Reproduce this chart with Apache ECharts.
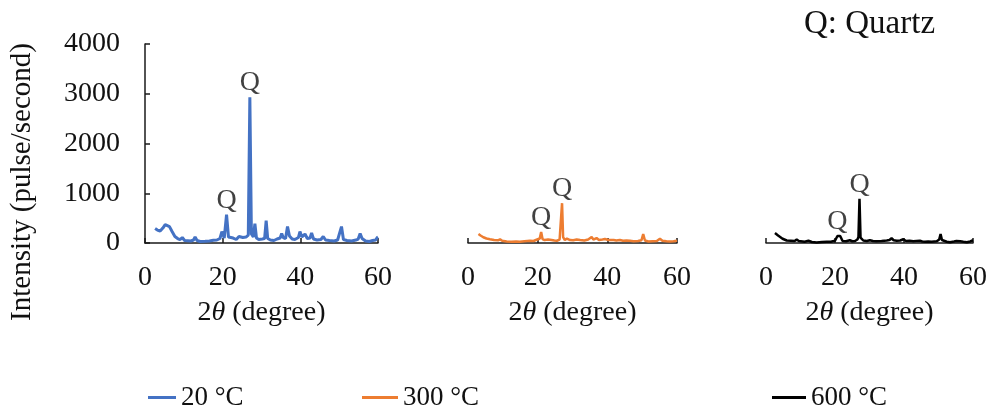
<!DOCTYPE html>
<html>
<head>
<meta charset="utf-8">
<script src="https://cdn.jsdelivr.net/npm/echarts@6/dist/echarts.min.js"></script>
<style>html,body{margin:0;padding:0;background:#fff}#c{width:991px;height:408px}</style>
</head>
<body>
<div id="c"></div>
<script>
// XRD patterns: [2theta (degree), intensity (pulse/second)]
const seriesNames = ['20 °C', '300 °C', '600 °C'];
const seriesColors = ['#4472C4', '#ED7D31', '#000000'];
const xTicks = [0, 20, 40, 60];
const yTicks = [0, 1000, 2000, 3000, 4000];
const xrd20 = [[2.6,290],[3.2,260],[3.9,240],[4.6,300],[5.2,370],[5.7,390],[6.3,330],[6.9,240],[7.7,130],[8.4,90],[9.0,70],[9.6,110],[10.2,50],[10.7,30],[11.8,40],[12.5,60],[12.9,120],[13.4,50],[14.2,30],[15.5,35],[16.6,40],[17.6,55],[18.5,60],[19.3,90],[19.8,230],[20.4,100],[21.0,570],[21.5,120],[22.0,80],[22.7,100],[23.5,70],[24.2,130],[24.6,90],[25.2,110],[26.0,120],[26.6,160],[27.0,2930],[27.4,180],[27.9,120],[28.3,390],[28.7,100],[29.3,70],[30.2,80],[30.8,90],[31.2,450],[31.6,90],[32.3,60],[33.2,50],[34.0,80],[34.8,100],[35.2,190],[35.6,110],[36.2,90],[36.7,330],[37.2,140],[37.9,80],[38.6,70],[39.5,110],[39.9,230],[40.4,120],[41.2,180],[41.8,90],[42.5,100],[42.9,200],[43.4,80],[44.3,60],[45.3,70],[45.9,130],[46.5,60],[47.5,50],[48.7,40],[49.6,60],[50.1,80],[50.6,330],[51.1,70],[52.0,50],[53.2,40],[54.3,60],[54.9,80],[55.4,190],[55.9,90],[56.8,40],[57.8,30],[58.6,50],[59.4,60],[59.8,110],[60.0,120]];
const xrd300 = [[3.0,180],[3.6,150],[4.4,115],[5.3,90],[6.3,75],[7.5,60],[8.6,55],[9.2,75],[9.8,45],[11.1,30],[12.5,25],[13.8,30],[14.9,25],[16.2,35],[17.8,45],[18.8,40],[19.5,60],[20.0,55],[20.6,90],[21.0,220],[21.4,80],[22.0,60],[23.0,70],[24.0,60],[24.8,50],[25.5,45],[26.3,70],[26.7,110],[27.0,800],[27.3,120],[27.8,60],[28.4,90],[28.8,120],[29.3,60],[30.2,55],[31.2,70],[32.2,60],[33.4,50],[34.5,70],[35.0,90],[35.5,120],[36.0,70],[36.9,100],[37.6,60],[38.6,70],[39.3,80],[39.8,115],[40.3,60],[40.8,45],[41.8,60],[42.6,50],[43.6,60],[44.5,45],[45.5,50],[46.5,45],[47.5,35],[48.8,40],[49.8,55],[50.3,180],[50.8,50],[51.8,30],[53.0,35],[54.2,40],[55.1,85],[55.8,45],[57.0,35],[58.0,30],[59.0,35],[60.0,45]];
const xrd600 = [[2.6,200],[3.0,185],[3.5,150],[4.0,115],[4.8,85],[6.0,50],[7.2,45],[8.3,40],[8.9,70],[9.5,40],[9.9,15],[11.2,25],[12.3,45],[13.3,20],[14.7,10],[16.2,20],[17.6,25],[18.8,25],[20.0,45],[20.4,80],[20.7,140],[21.1,120],[21.5,140],[22.2,40],[23.2,35],[24.3,55],[25.0,35],[25.8,40],[26.5,70],[26.8,120],[27.1,890],[27.4,110],[28.2,50],[29.2,40],[30.1,55],[31.0,40],[32.0,35],[33.5,40],[35.0,50],[35.8,60],[36.4,95],[37.0,55],[37.9,45],[38.9,50],[39.8,75],[40.6,40],[41.6,45],[42.7,35],[43.6,40],[44.6,45],[45.3,30],[46.1,25],[47.0,30],[48.0,25],[49.5,35],[50.2,70],[50.6,180],[51.0,60],[51.4,35],[52.4,25],[53.3,15],[54.5,30],[55.2,40],[55.7,65],[56.3,35],[57.2,25],[58.2,15],[59.2,30],[60.0,55]];
// 2theta positions of the peaks marked "Q" (quartz)
const quartzPeaks = [[21.0, 27.0], [21.0, 27.0], [20.7, 27.1]];

const allData = [xrd20, xrd300, xrd600];
const FONT = '"Liberation Serif", "Times New Roman", serif';
const FS = 28;
const grids = [
  {left: 145, width: 233, top: 44, height: 199},
  {left: 468, width: 209, top: 44, height: 199},
  {left: 766, width: 207, top: 44, height: 199}
];
const axisColor = '#1a1a1a';
const textColor = '#111';

const option = {
  animation: false,
  backgroundColor: '#fff',
  textStyle: {fontFamily: FONT},
  title: {text: 'Q: Quartz', left: 799, top: 3, textStyle: {fontFamily: FONT, fontSize: 33, fontWeight: 'normal', color: textColor}},
  grid: grids.map(g => Object.assign({outerBoundsMode: 'none', containLabel: false}, g)),
  xAxis: grids.map((g, i) => ({
    type: 'value', gridIndex: i, min: xTicks[0], max: xTicks[xTicks.length - 1], interval: xTicks[1] - xTicks[0],
    name: '2{i|θ} (degree)', nameLocation: 'middle', nameGap: 56,
    nameTextStyle: {fontFamily: FONT, fontSize: FS, color: textColor, rich: {i: {fontFamily: FONT, fontSize: FS, fontStyle: 'italic', color: textColor}}},
    axisLine: {show: true, onZero: false, lineStyle: {color: axisColor, width: 1.5}},
    axisTick: {show: true, inside: true, length: 5, lineStyle: {color: axisColor, width: 1.5}},
    axisLabel: {fontFamily: FONT, fontSize: FS, color: textColor, margin: 21},
    splitLine: {show: false}
  })),
  yAxis: grids.map((g, i) => ({
    type: 'value', gridIndex: i, min: yTicks[0], max: yTicks[yTicks.length - 1], interval: yTicks[1] - yTicks[0],
    show: i === 0,
    axisLine: {show: true, lineStyle: {color: axisColor, width: 1.5}},
    axisTick: {show: true, inside: true, length: 5, lineStyle: {color: axisColor, width: 1.5}},
    axisLabel: {fontFamily: FONT, fontSize: FS, color: textColor, margin: 25, formatter: v => String(v)},
    splitLine: {show: false}
  })),
  legend: seriesNames.map((n, i) => ({
    data: [n], left: [143, 357, 767][i], top: 379, icon: 'rect', itemWidth: [28, 36, 34][i], itemHeight: 3, itemGap: 0,
    textStyle: {fontFamily: FONT, fontSize: 27, color: textColor, padding: [0, 0, 0, 0]}
  })),
  graphic: [{
    type: 'text', x: 22, y: 182, rotation: Math.PI / 2,
    style: {text: 'Intensity (pulse/second)', font: '29px ' + FONT, fill: textColor, align: 'center', verticalAlign: 'middle'}
  }],
  series: []
};

allData.forEach((d, i) => {
  option.series.push({
    type: 'line', name: seriesNames[i], xAxisIndex: i, yAxisIndex: i,
    data: d, showSymbol: false, symbol: 'none',
    lineStyle: {color: seriesColors[i], width: i === 0 ? 3 : 2.5},
    itemStyle: {color: seriesColors[i]},
    clip: false
  });
  const qData = quartzPeaks[i].map(t => {
    const p = d.find(v => Math.abs(v[0] - t) < 1e-6);
    return [p[0], p[1]];
  });
  option.series.push({
    type: 'scatter', name: 'Q', xAxisIndex: i, yAxisIndex: i, data: qData,
    symbol: 'circle', symbolSize: 1, itemStyle: {color: 'transparent'}, silent: true,
    label: {show: true, formatter: 'Q', position: 'top', distance: 0, fontFamily: FONT, fontSize: 28, color: textColor}
  });
});

const chart = echarts.init(document.getElementById('c'), null, {renderer: 'canvas'});
chart.setOption(option);
</script>
</body>
</html>
